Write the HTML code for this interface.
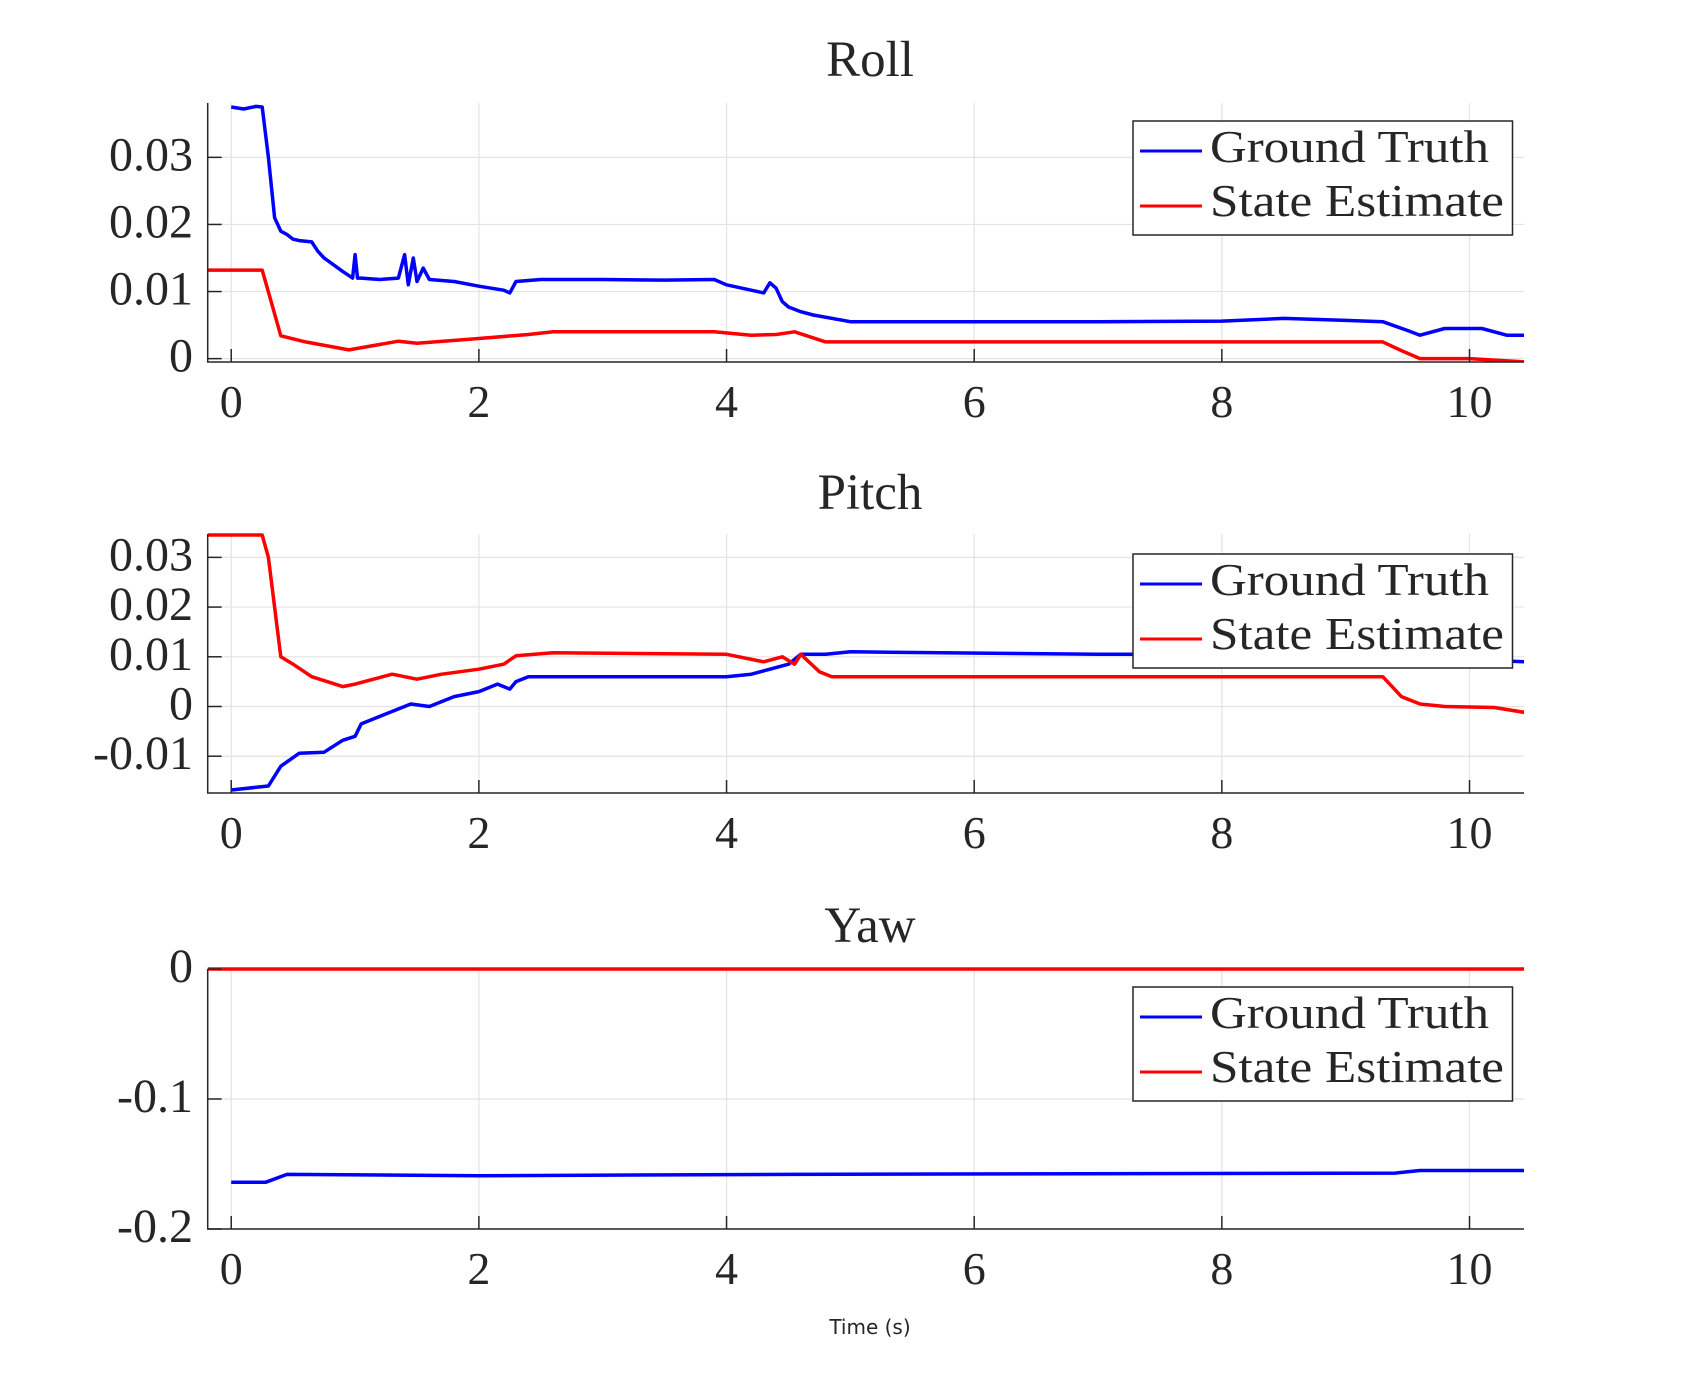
<!DOCTYPE html>
<html><head><meta charset="utf-8"><style>
html,body{margin:0;padding:0;background:#fff}
svg{display:block}
text{font-family:"Liberation Serif",serif;fill:#262626}
</style></head><body>
<svg id="fig" width="1685" height="1376" viewBox="0 0 1685 1376" xmlns="http://www.w3.org/2000/svg">
<rect width="1685" height="1376" fill="#fff"/>
<text x="870" y="1334" text-anchor="middle" style="font-family:'DejaVu Sans',sans-serif;font-size:20px;fill:#262626">Time (s)</text>
</svg>
<script>
// ---- Data ----
const xTicks = [0,2,4,6,8,10];
const rollTicks = [0,0.01,0.02,0.03];
const rollTickLabels = ["0","0.01","0.02","0.03"];
const pitchTicks = [-0.01,0,0.01,0.02,0.03];
const pitchTickLabels = ["-0.01","0","0.01","0.02","0.03"];
const yawTicks = [-0.2,-0.1,0];
const yawTickLabels = ["-0.2","-0.1","0"];

const rollGtT = [0,0.1,0.2,0.25,0.3,0.35,0.4,0.45,0.5,0.55,0.65,0.7,0.75,0.9,0.98,1.0,1.02,1.05,1.2,1.35,1.4,1.43,1.47,1.5,1.55,1.6,1.8,2.0,2.2,2.25,2.3,2.5,3.0,3.5,3.9,4.0,4.3,4.35,4.4,4.45,4.5,4.6,4.7,5.0,6.0,7.0,8.0,8.5,9.0,9.3,9.5,9.6,9.8,10.1,10.3,10.45];
const rollGtV = [0.0375,0.0372,0.0376,0.0375,0.030,0.021,0.019,0.0185,0.0178,0.0176,0.0174,0.016,0.015,0.013,0.012,0.0155,0.012,0.012,0.0118,0.012,0.0155,0.011,0.015,0.0115,0.0135,0.0118,0.0115,0.0108,0.0102,0.0098,0.0115,0.0118,0.0118,0.0117,0.0118,0.011,0.0098,0.0113,0.0105,0.0085,0.0077,0.007,0.0065,0.0055,0.0055,0.0055,0.0056,0.006,0.0057,0.0055,0.0042,0.0035,0.0045,0.0045,0.0035,0.0035];
const rollSeT = [-0.19,0.25,0.33,0.4,0.6,0.95,1.1,1.35,1.5,2.0,2.4,2.6,3.9,4.2,4.4,4.55,4.8,9.3,9.45,9.6,10.0,10.45];
const rollSeV = [0.0132,0.0132,0.008,0.0034,0.0025,0.0013,0.0018,0.0026,0.0023,0.003,0.0036,0.004,0.004,0.0035,0.0036,0.004,0.0025,0.0025,0.0012,0.0,0.0,-0.0005];

const pitchGtT = [0,0.3,0.4,0.55,0.75,0.9,1.0,1.05,1.2,1.45,1.6,1.8,2.0,2.15,2.25,2.3,2.4,3.0,4.0,4.2,4.5,4.6,4.8,5.0,7.0,9.0,10.45];
const pitchGtV = [-0.0168,-0.016,-0.012,-0.0094,-0.0092,-0.0068,-0.006,-0.0035,-0.002,0.0005,0.0,0.002,0.003,0.0045,0.0035,0.005,0.006,0.006,0.006,0.0065,0.0085,0.0105,0.0105,0.011,0.0105,0.0105,0.009];
const pitchSeT = [-0.19,0.25,0.3,0.35,0.4,0.5,0.65,0.9,1.0,1.3,1.5,1.7,2.0,2.2,2.3,2.6,4.0,4.3,4.45,4.55,4.6,4.75,4.85,9.3,9.45,9.6,9.8,10.2,10.45];
const pitchSeV = [0.0345,0.0345,0.03,0.02,0.01,0.0085,0.006,0.004,0.0045,0.0065,0.0055,0.0065,0.0075,0.0085,0.0102,0.0108,0.0105,0.009,0.01,0.0085,0.0105,0.007,0.006,0.006,0.002,0.0005,0.0,-0.0002,-0.0012];

const yawGtT = [0,0.28,0.45,2.0,4.5,9.4,9.6,10.45];
const yawGtV = [-0.164,-0.164,-0.158,-0.159,-0.158,-0.157,-0.155,-0.155];
const yawSeT = [-0.19,10.45];
const yawSeV = [0,0];

// ---- Drawing ----
const NS = "http://www.w3.org/2000/svg";
const svg = document.getElementById('fig');
const L = 207.7, R = 1524, X0 = -0.19, X1 = 10.44;
function xs(v){ return L + (v - X0) / (X1 - X0) * (R - L); }
function mk(tag, attrs, parent){ const e = document.createElementNS(NS, tag); for (const k in attrs) e.setAttribute(k, attrs[k]); (parent||svg).appendChild(e); return e; }

function panel(cfg){
  const g = mk('g', {});
  
  
  const ys = v => cfg.bot - (v - cfg.y0) / (cfg.y1 - cfg.y0) * (cfg.bot - cfg.top);
  xTicks.forEach(t => { const l = mk('line', {x1:xs(t), x2:xs(t), y1:cfg.top, y2:cfg.bot, stroke:'#e3e3e3', 'stroke-width':1.2}, g);
      });
  cfg.ticks.forEach(t => { const l = mk('line', {x1:L, x2:R, y1:ys(t), y2:ys(t), stroke:'#e3e3e3', 'stroke-width':1.2}, g);
      });
  const clipId = 'clip-' + cfg.name;
  const cp = mk('clipPath', {id: clipId}, g);
  mk('rect', {x:L, y:cfg.top-2, width:R-L, height:cfg.bot-cfg.top+2}, cp);
  cfg.series.forEach(s => {
    const pts = s.t.map((t,i) => xs(t).toFixed(1) + ',' + ys(s.v[i]).toFixed(1)).join(' ');
    const pl = mk('polyline', {points:pts, fill:'none', stroke:s.color, 'stroke-width':3.5, 'stroke-linejoin':'round', 'clip-path':'url(#'+clipId+')'}, g);
    
    
  });
  const ax = mk('path', {d:`M${L},${cfg.top} L${L},${cfg.bot} L${R},${cfg.bot}`, fill:'none', stroke:'#262626', 'stroke-width':1.5}, g);
  
  
  xTicks.forEach(t => {
    mk('line', {x1:xs(t), x2:xs(t), y1:cfg.bot, y2:cfg.bot-13, stroke:'#262626', 'stroke-width':1.5}, g);
    const tx = mk('text', {x:xs(t), y:cfg.bot+55, 'text-anchor':'middle', 'font-size':46}, g);
    tx.textContent = String(t);
    
    
  });
  cfg.ticks.forEach((t,i) => {
    mk('line', {x1:L, x2:L+14, y1:ys(t), y2:ys(t), stroke:'#262626', 'stroke-width':1.5}, g);
    const tx = mk('text', {x:193, y:ys(t)+13, 'text-anchor':'end', 'font-size':48}, g);
    tx.textContent = cfg.labels[i];
    
    
  });
  const title = mk('text', {x:870, y:cfg.titleY, 'text-anchor':'middle', 'font-size':51, fill:'#000'}, g);
  title.textContent = cfg.title;
  
  
  const lg = mk('g', {}, g);
  
  
  const ly = cfg.legY;
  mk('rect', {x:1133, y:ly, width:379.5, height:114, fill:'#fff', stroke:'#262626', 'stroke-width':1.5}, lg);
  const entries = [['Ground Truth','#0000ff',279],['State Estimate','#ff0000',294]];
  entries.forEach((e,i) => {
    const en = mk('g', {}, lg);
    
    
    mk('line', {x1:1140, x2:1202, y1:ly+30+55*i, y2:ly+30+55*i, stroke:e[1], 'stroke-width':3}, en);
    const tx = mk('text', {x:1210, y:ly+41+54*i, 'font-size':46, textLength:e[2], lengthAdjust:'spacingAndGlyphs', fill:'#000'}, en);
    tx.textContent = e[0];
  });
}

panel({name:'roll', title:'Roll', titleY:76, top:103, bot:362, y0:-0.0005, y1:0.0381, ticks:rollTicks, labels:rollTickLabels, legY:121,
  series:[{name:'ground-truth', t:rollGtT, v:rollGtV, color:'#0000ff'},{name:'state-estimate', t:rollSeT, v:rollSeV, color:'#ff0000'}]});
panel({name:'pitch', title:'Pitch', titleY:509, top:534, bot:793, y0:-0.0174, y1:0.0347, ticks:pitchTicks, labels:pitchTickLabels, legY:554,
  series:[{name:'ground-truth', t:pitchGtT, v:pitchGtV, color:'#0000ff'},{name:'state-estimate', t:pitchSeT, v:pitchSeV, color:'#ff0000'}]});
panel({name:'yaw', title:'Yaw', titleY:942, top:969, bot:1229, y0:-0.2, y1:0, ticks:yawTicks, labels:yawTickLabels, legY:987,
  series:[{name:'ground-truth', t:yawGtT, v:yawGtV, color:'#0000ff'},{name:'state-estimate', t:yawSeT, v:yawSeV, color:'#ff0000'}]});
</script>
</body></html>
